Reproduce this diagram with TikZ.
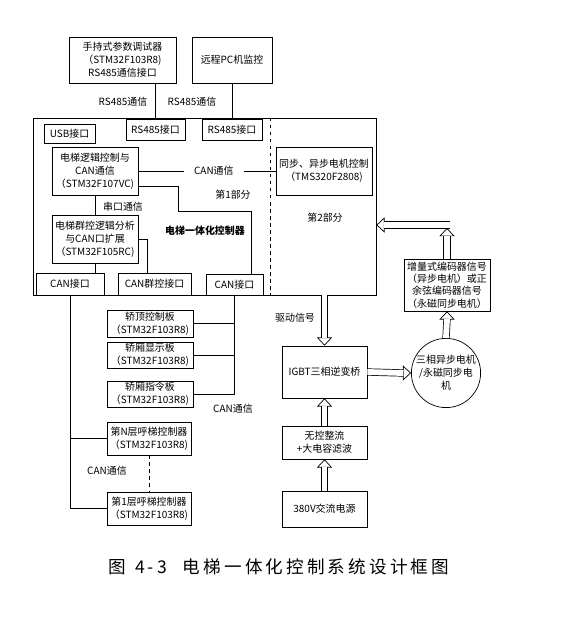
\documentclass[tikz,border=0pt]{standalone}
\usepackage{fontspec}
\setmainfont{Noto Sans CJK SC}
\newfontfamily\capfont[LetterSpace=18]{Noto Sans CJK SC}
\usetikzlibrary{arrows.meta}

\begin{document}
\begin{tikzpicture}[x=0.03cm, y=-0.03cm, line width=0.6pt,
	box/.style = {draw, align=center, inner sep=1pt,
		font=\fontsize{8.5}{11}\selectfont},
	wh/.style 2 args = {minimum width=#1*0.03cm, minimum height=#2*0.03cm},
	lbl/.style = {font=\fontsize{8.5}{11}\selectfont, inner sep=1pt},
	dbl/.style = {double, double distance=5pt},
	tip/.style = {-{Triangle[open, length=7pt, width=13pt]}}]
	\useasboundingbox (0,0) rectangle (584,618);

	% top devices
	\node[box, wh={107}{46}] (hand) at (122.5,60) {手持式参数调试器\\（STM32F103R8)\\RS485通信接口};
	\node[box, wh={80}{46}] (pc) at (232,60) {远程PC机监控};

	% controller
	\node[draw, wh={343}{177}] (ctrl) at (204.5,206.5) {};
	\coordinate (sep) at (270,0);
	\draw[dashed] (ctrl.north -| sep) -- (ctrl.south -| sep);
	\node[box, wh={51}{19}] (usb) at (69.5,133.5) {USB接口};
	\node[box, wh={59}{21}] (rs1) at (155.5,129.5) {RS485接口};
	\node[box, wh={60}{21}] (rs2) at (232,129.5) {RS485接口};
	\node[box, wh={86}{48}] (logic) at (95,171) {电梯逻辑控制与\\CAN通信\\（STM32F107VC)};
	\node[box, wh={86}{48}] (group) at (95,239) {电梯群控逻辑分析\\与CAN口扩展\\（STM32F105RC)};
	\node[box, wh={68}{22}] (can1) at (70,284) {CAN接口};
	\node[box, wh={73}{22}] (cang) at (154.5,284) {CAN群控接口};
	\node[box, wh={57}{21}] (can2) at (234.5,284.5) {CAN接口};
	\node[box, wh={96}{48}] (sync) at (324,171) {同步、异步电机控制\\（TMS320F2808)};
	\node[lbl] (part1) at (233,195) {第1部分};
	\node[lbl] (part2) at (325,218) {第2部分};
	\node[lbl, font=\fontsize{8.5}{11}\selectfont\bfseries] (title) at (205,231) {电梯一体化控制器};

	% car and hall boards
	\node[box, wh={86}{27}] (top) at (150,323.5) {轿顶控制板\\（STM32F103R8)};
	\node[box, wh={86}{26}] (disp) at (150,355) {轿厢显示板\\（STM32F103R8)};
	\node[box, wh={86}{26}] (cmd) at (150,394) {轿厢指令板\\（STM32F103R8)};
	\node[box, wh={84}{33}] (callN) at (149,438.5) {第N层呼梯控制器\\（STM32F103R8)};
	\node[box, wh={84}{33}] (call1) at (149,508.5) {第1层呼梯控制器\\（STM32F103R8)};

	% power stage
	\node[box, wh={85}{52}] (igbt) at (324.5,372) {IGBT三相逆变桥};
	\node[box, wh={85}{33}] (rect) at (324.5,442.5) {无控整流\\+大电容滤波};
	\node[box, wh={85}{36}] (power) at (324.5,509) {380V交流电源};
	\node[draw, circle, minimum size=64*0.03cm, align=center, inner sep=0pt,
		font=\fontsize{8.5}{11}\selectfont] (motor) at (446,373) {三相异步电机\\/永磁同步电\\机};
	\node[box, wh={86}{52}, font=\fontsize{8.5}{10.5}\selectfont] (enc) at (447,285)
		{增量式编码器信号\\（异步电机）或正\\余弦编码器信号\\（永磁同步电机）};

	% RS485 links
	\draw (rs1.north |- hand.south) -- (rs1.north);
	\draw (pc.south) -- (rs2.north);
	\node[lbl] (rsa) at (123,102) {RS485通信};
	\node[lbl] (rsb) at (192,102) {RS485通信};

	% links inside controller
	\draw (logic.east |- sync.west) -- node[lbl, pos=0.55, fill=white, inner xsep=9pt] (cana) {CAN通信} (sync.west);
	\coordinate (j1) at (178,211);
	\coordinate (j2) at (251,211);
	\draw ([yshift=0.27cm]logic.south east) -| (j1) -- (j2) -- (j2 |- can2.north);
	\draw (logic.south) -- (group.north);
	\node[lbl] (uart) at (123,207) {串口通信};
	\coordinate (j3) at (147,239);
	\draw (group.east) -- (j3) -- (j3 |- cang.north);
	\draw (group.south) -- (group.south |- can1.north);

	% CAN buses
	\draw (can2.south) |- (cmd.east);
	\draw (can2.south |- top.east) -- (top.east);
	\draw (can2.south |- disp.east) -- (disp.east);
	\node[lbl] (canb) at (233,409) {CAN通信};
	\draw (can1.south) |- (call1.west);
	\draw (can1.south |- callN.west) -- (callN.west);
	\draw[dashed] (callN.south) -- (call1.north);
	\node[lbl] (canc) at (107,471) {CAN通信};

	% power arrows
	\draw[tip] ([yshift=7pt]igbt.north) -- (igbt.north);
	\draw[dbl] (igbt.north |- ctrl.south) -- ([yshift=6.5pt]igbt.north);
	\node[lbl] (drive) at (295,318) {驱动信号};
	\draw[tip] ([xshift=-7pt]motor.west) -- (motor.west);
	\draw[dbl] (igbt.east) -- ([xshift=-6.5pt]motor.west);
	\draw[tip] ([yshift=-7pt]igbt.south) -- (igbt.south);
	\draw[dbl] (rect.north) -- ([yshift=-6.5pt]igbt.south);
	\draw[tip] ([yshift=-7pt]rect.south) -- (rect.south);
	\draw[dbl] (power.north) -- ([yshift=-6.5pt]rect.south);
	\draw[tip] ([yshift=-7pt]enc.south) -- (enc.south);
	\draw[dbl] (motor.north) -- ([yshift=-6.5pt]enc.south);

	% encoder feedback
	\coordinate (up) at (447,228);
	\coordinate (turn) at (450,225);
	\draw[tip] ([yshift=-7pt]up) -- (up);
	\draw[dbl] (enc.north) -- ([yshift=-6.5pt]up);
	\draw[tip] ([xshift=7pt]ctrl.east |- turn) -- (ctrl.east |- turn);
	\draw[dbl] (turn) -- ([xshift=6.5pt]ctrl.east |- turn);

	% caption
	\node[font=\capfont\fontsize{15}{18}\selectfont] (cap) at (279,567)
		{图\hspace{0.5em}4-3\hspace{0.9em}电梯一体化控制系统设计框图};
\end{tikzpicture}
\end{document}
